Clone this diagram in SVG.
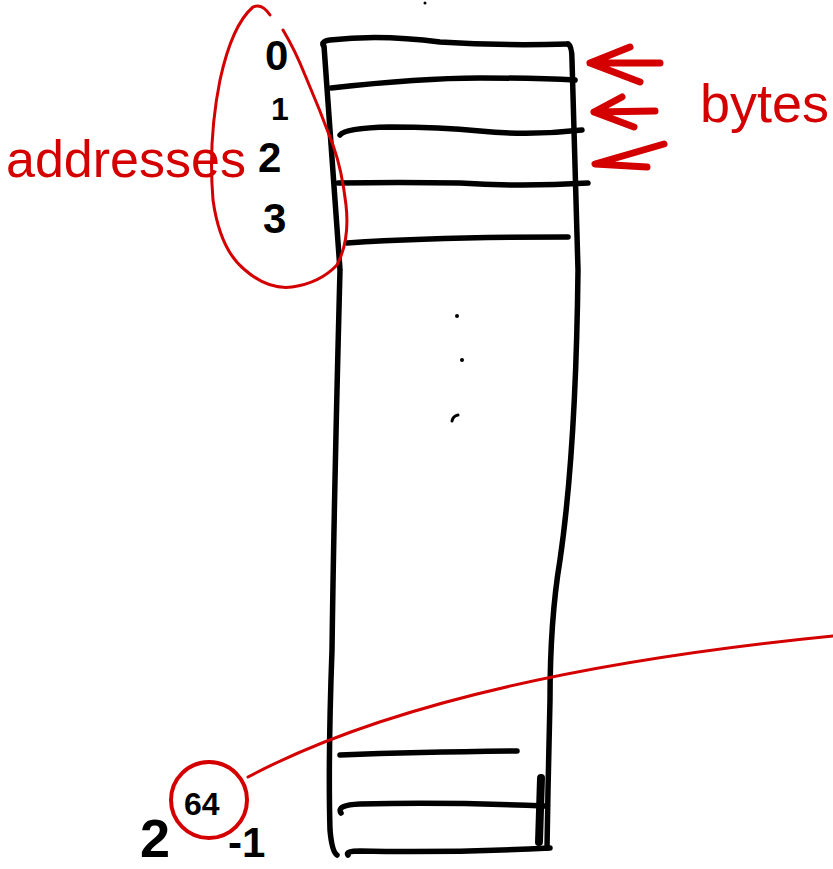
<svg xmlns="http://www.w3.org/2000/svg" width="833" height="869" viewBox="0 0 833 869">
<style>
.blk{fill:none;stroke:#000;stroke-width:5.5;stroke-linecap:round;stroke-linejoin:round}
.red{fill:none;stroke:#d40000;stroke-width:3;stroke-linecap:round;stroke-linejoin:round}
.redthick{fill:none;stroke:#d40000;stroke-width:7;stroke-linecap:round;stroke-linejoin:round}
.tb{font-family:"Liberation Sans",Arial,sans-serif;fill:#000}
.tr{font-family:"Liberation Sans",Arial,sans-serif;fill:#d40000}
</style>
<rect width="833" height="869" fill="#fff"/>
<g id="memory">
  <path class="blk" d="M323,45 Q322,41 330,40 Q380,34 440,42 Q500,46 568,44"/>
  <path class="blk" d="M568,44 Q572,46 572,60 L578,270 Q576,450 560,560 Q550,620 550,700 L548,790 L547,848"/>
  <path class="blk" d="M324,46 L340,270 Q334,500 332,650 Q328,760 330,830 Q332,852 337,855"/>
  <path class="blk" d="M541,778 L539,842" style="stroke-width:8"/>
  <path class="blk" d="M331,88 Q420,78 480,78 Q540,78 575,80"/>
  <path class="blk" d="M340,135 Q345,128 390,127 Q440,127 480,131 Q530,136 582,130"/>
  <path class="blk" d="M338,183 Q400,182 460,183 Q520,187 588,183"/>
  <path class="blk" d="M347,243 Q440,237 568,237"/>
  <path class="blk" d="M340,755 Q420,752 517,751"/>
  <path class="blk" d="M341,813 Q336,805 360,804 Q450,802 545,806"/>
  <path class="blk" d="M348,855 Q345,851 360,851 Q450,853 550,848"/>
  <circle cx="457" cy="316" r="2" fill="#000"/>
  <circle cx="462" cy="360" r="2" fill="#000"/>
  <path d="M452,421 Q453,416 458,415" fill="none" stroke="#000" stroke-width="3" stroke-linecap="round"/>
  <circle cx="425" cy="3" r="1.5" fill="#000"/>
</g>
<g id="address-numbers">
  <text class="tb" x="265" y="70" font-size="42" font-weight="bold">0</text>
  <text class="tb" x="271" y="120" font-size="32" font-weight="bold">1</text>
  <text class="tb" x="258" y="172" font-size="42" font-weight="bold">2</text>
  <text class="tb" x="263" y="233" font-size="42" font-weight="bold">3</text>
</g>
<g id="addresses-label">
  <path class="red" d="M270,15 Q262,3 253,7 Q232,25 220,80 Q208,140 213,200 Q220,250 245,270 Q268,290 292,287 Q320,283 337,265 Q350,240 346,205 Q342,170 333,145 Q320,110 305,75 Q295,50 283,30"/>
  <text class="tr" x="6" y="177" font-size="52">addresses</text>
</g>
<g id="bytes-label">
  <text class="tr" x="700" y="122" font-size="54">bytes</text>
</g>
<g id="connectors">
  <path class="redthick" d="M660,63 L590,63 M630,47 L590,63 L640,82"/>
  <path class="redthick" d="M655,111 L594,112 M622,97 L594,112 L634,127"/>
  <path class="redthick" d="M664,144 L595,164 L647,167"/>
  <path class="red" d="M248,777 Q440,675 833,636"/>
</g>
<g id="max-address">
  <text class="tb" x="140" y="857" font-size="54" font-weight="bold">2</text>
  <text class="tb" x="184" y="815" font-size="32" font-weight="bold">64</text>
  <circle class="red" cx="209" cy="800" r="38" style="stroke-width:4"/>
  <text class="tb" x="228" y="857" font-size="42" font-weight="bold">-1</text>
</g>
</svg>
